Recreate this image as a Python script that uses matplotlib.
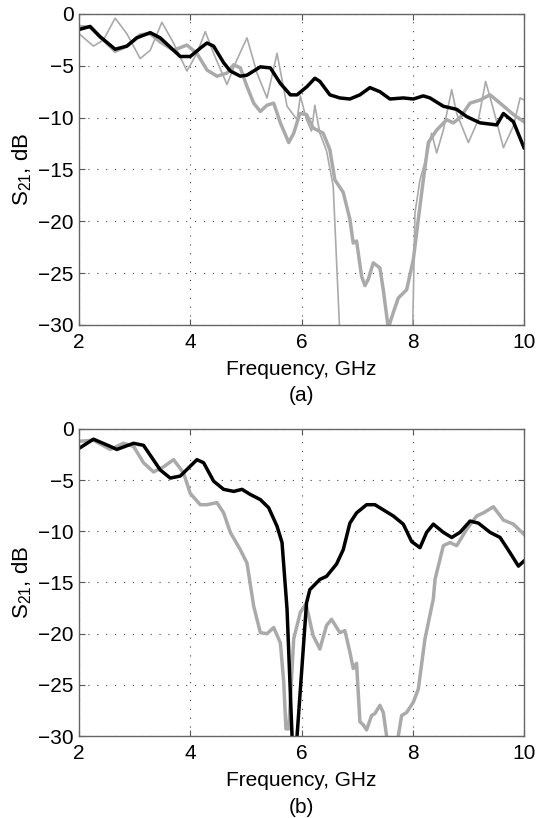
import matplotlib
matplotlib.use("Agg")
import matplotlib.pyplot as plt

plt.rcParams['font.family'] = ['Liberation Sans', 'DejaVu Sans']
plt.rcParams['mathtext.fontset'] = 'custom'
plt.rcParams['mathtext.rm'] = 'Liberation Sans'
plt.rcParams['mathtext.it'] = 'Liberation Sans:italic'

# ---- panel (a) ----
a_black_f = [2.0, 2.2, 2.38, 2.65, 2.86, 3.04, 3.28, 3.46, 3.70, 3.82, 4.0, 4.18, 4.3, 4.42, 4.6, 4.72, 4.9, 5.02,
             5.26, 5.44, 5.62, 5.8, 5.92, 6.1, 6.24, 6.33, 6.51, 6.69, 6.87, 7.05, 7.23, 7.41, 7.59, 7.83, 8.01,
             8.19, 8.31, 8.55, 8.79, 8.97, 9.21, 9.51, 9.63, 9.81, 10.0]
a_black_s = [-1.5, -1.2, -2.2, -3.4, -3.1, -2.3, -1.8, -2.3, -3.5, -4.1, -4.1, -3.3, -2.8, -3.1, -4.7, -5.5, -6.0, -5.9,
             -5.1, -5.2, -6.7, -7.8, -7.8, -7.0, -6.2, -6.5, -7.8, -8.1, -8.2, -7.8, -7.1, -7.5, -8.2, -8.1, -8.2,
             -7.9, -8.1, -8.9, -9.2, -9.9, -10.5, -10.7, -9.6, -10.4, -12.9]

a_thick_f = [2.0, 2.2, 2.44, 2.65, 2.86, 3.1, 3.28, 3.46, 3.70, 3.94, 4.12, 4.3, 4.48, 4.66, 4.78, 4.9, 5.02, 5.14,
             5.26, 5.38, 5.5, 5.62, 5.77, 5.86, 5.97, 6.09, 6.21, 6.39, 6.51, 6.6, 6.75, 6.87, 6.93, 6.99, 7.08,
             7.14, 7.2, 7.29, 7.41, 7.47, 7.56, 7.65, 7.74, 7.89, 8.01, 8.10, 8.19, 8.28, 8.43, 8.61, 8.73, 8.85,
             9.03, 9.21, 9.39, 9.57, 9.81, 10.0]
a_thick_s = [-1.2, -1.3, -2.5, -3.6, -3.1, -2.0, -1.9, -2.7, -3.5, -3.0, -3.8, -5.4, -6.0, -5.7, -4.9, -5.2, -7.0, -8.6,
             -9.4, -8.8, -8.6, -10.5, -12.4, -11.5, -9.6, -9.7, -11.0, -11.5, -13.1, -16.0, -17.2, -19.8, -22.1, -21.9,
             -25.3, -26.2, -25.6, -24.0, -24.5, -26.6, -30.3, -28.8, -27.4, -26.6, -23.7, -19.8, -16.0, -12.4, -11.2,
             -10.2, -10.5, -10.0, -8.6, -8.3, -7.8, -8.6, -9.7, -10.4]

a_thin_f = [2.0, 2.26, 2.44, 2.65, 2.86, 3.1, 3.28, 3.49, 3.70, 3.94, 4.12, 4.27, 4.42, 4.66, 4.84, 5.02, 5.2, 5.38,
            5.56, 5.74, 5.92, 5.98, 6.09, 6.18, 6.24, 6.33, 6.45, 6.57, 6.68, 6.72, 7.97, 8.0, 8.04, 8.13, 8.25,
            8.34, 8.43, 8.55, 8.7, 8.79, 9.0, 9.18, 9.31, 9.45, 9.63, 9.81, 9.93, 10.0]
a_thin_s = [-1.9, -3.1, -2.5, -0.4, -1.9, -4.3, -3.5, -0.8, -2.8, -5.5, -3.8, -1.7, -3.8, -6.8, -4.4, -2.3, -5.7, -8.1,
            -3.8, -8.9, -10.2, -7.9, -10.2, -11.3, -8.8, -11.5, -13.2, -16.6, -29.8, -40.0, -40.0, -30.0, -19.2,
            -16.0, -13.7, -11.5, -13.4, -11.2, -7.3, -9.6, -12.4, -10.2, -6.5, -9.2, -12.9, -10.8, -8.1, -8.3]

# ---- panel (b) ----
b_black_f = [2.0, 2.26, 2.56, 2.68, 2.98, 3.16, 3.46, 3.64, 3.82, 3.97, 4.12, 4.24, 4.42, 4.6, 4.78, 4.93, 5.08, 5.26,
             5.41, 5.56, 5.65, 5.74, 5.83, 5.875, 5.92, 6.09, 6.15, 6.33, 6.45, 6.63, 6.75, 6.87, 6.99, 7.17, 7.32,
             7.47, 7.65, 7.83, 7.98, 8.13, 8.25, 8.37, 8.55, 8.7, 8.85, 9.03, 9.18, 9.39, 9.57, 9.75, 9.9, 10.0]
b_black_s = [-1.9, -1.0, -1.7, -2.0, -1.4, -1.6, -4.0, -4.8, -4.6, -3.8, -3.0, -3.3, -5.1, -5.9, -6.1, -5.9, -6.4, -6.9,
             -7.7, -9.5, -11.1, -17.6, -30.0, -36.0, -30.0, -17.0, -15.7, -14.7, -14.4, -13.2, -11.8, -9.2, -8.2,
             -7.4, -7.4, -7.9, -8.5, -9.3, -11.0, -11.6, -10.1, -9.3, -10.1, -10.6, -10.1, -9.0, -9.2, -10.1, -10.6,
             -12.1, -13.4, -12.9]

b_gray_f = [2.0, 2.26, 2.56, 2.8, 2.98, 3.16, 3.34, 3.52, 3.7, 3.88, 4.0, 4.18, 4.3, 4.48, 4.6, 4.72, 4.9, 5.02, 5.14,
            5.2, 5.26, 5.38, 5.5, 5.62, 5.68, 5.72, 5.77, 5.8, 5.86, 5.98, 6.08, 6.21, 6.33, 6.45, 6.54, 6.69, 6.78,
            6.87, 6.93, 6.99, 7.05, 7.11, 7.17, 7.26, 7.32, 7.41, 7.47, 7.53, 7.63, 7.74, 7.8, 7.89, 8.01, 8.1,
            8.22, 8.37, 8.4, 8.55, 8.67, 8.79, 8.97, 9.15, 9.27, 9.45, 9.63, 9.81, 10.0]
b_gray_s = [-1.2, -1.1, -2.0, -1.4, -1.7, -3.3, -4.2, -3.7, -3.0, -4.3, -6.3, -7.4, -7.4, -7.2, -8.2, -10.1, -11.8,
            -13.1, -17.3, -18.6, -19.9, -20.0, -19.4, -20.9, -24.7, -29.3, -29.3, -26.4, -20.5, -17.9, -17.1, -20.2,
            -21.5, -19.2, -18.6, -19.9, -19.7, -21.8, -23.4, -22.9, -28.6, -28.9, -29.4, -28.0, -27.8, -27.0, -27.7,
            -30.0, -33.0, -30.0, -28.0, -27.7, -26.7, -25.4, -20.5, -16.6, -14.7, -11.4, -11.1, -11.4, -9.8, -8.5,
            -8.2, -7.6, -8.9, -9.3, -10.3]

x_ticks = [2, 4, 6, 8, 10]
y_ticks = [0, -5, -10, -15, -20, -25, -30]
xlabel = "Frequency, GHz"
ylabel = "S$_{21}$, dB"
panel_labels = ["(a)", "(b)"]

GRAY = "#aaaaaa"
FS = 15
fig = plt.figure(figsize=(5.36, 8.18), dpi=100)
ax1 = fig.add_axes([0.1474, 0.6027, 0.8302, 0.3802])
ax2 = fig.add_axes([0.1474, 0.1002, 0.8302, 0.3754])

ax1.plot(a_thin_f, a_thin_s, color=GRAY, lw=1.2, solid_joinstyle='round')
ax1.plot(a_thick_f, a_thick_s, color=GRAY, lw=2.5, solid_joinstyle='round')
ax1.plot(a_black_f, a_black_s, color='black', lw=2.5, solid_joinstyle='round')

ax2.plot(b_gray_f, b_gray_s, color=GRAY, lw=2.5, solid_joinstyle='round')
ax2.plot(b_black_f, b_black_s, color='black', lw=2.5, solid_joinstyle='round')

for ax, lab in zip([ax1, ax2], panel_labels):
    ax.set_xlim(2, 10)
    ax.set_ylim(-30, 0)
    ax.set_xticks(x_ticks)
    ax.set_yticks(y_ticks)
    ax.set_yticklabels(["0" if t == 0 else "\u2212%d" % abs(t) for t in y_ticks])
    ax.grid(True, linestyle=(0, (1, 7)), color='#444444', lw=0.8)
    ax.tick_params(direction='in', length=4, top=True, right=True, labelsize=FS, color='#555555')
    ax.tick_params(axis='x', pad=5.5)
    ax.tick_params(axis='y', pad=4)
    for s in ax.spines.values():
        s.set_color('#666666')
        s.set_linewidth(1.0)
    h = ax.get_position().height * 818
    ax.set_xlabel(xlabel, fontsize=FS, va='baseline')
    ax.xaxis.set_label_coords(0.5, -50.0 / h)
    ax.set_ylabel(ylabel, fontsize=FS + 1, va='center')
    ax.yaxis.set_label_coords(-0.128, 0.5)
    ax.text(0.5, -71.0 / h, lab, transform=ax.transAxes, ha='center', va='center', fontsize=FS)

fig.savefig("out.png", dpi=100)
